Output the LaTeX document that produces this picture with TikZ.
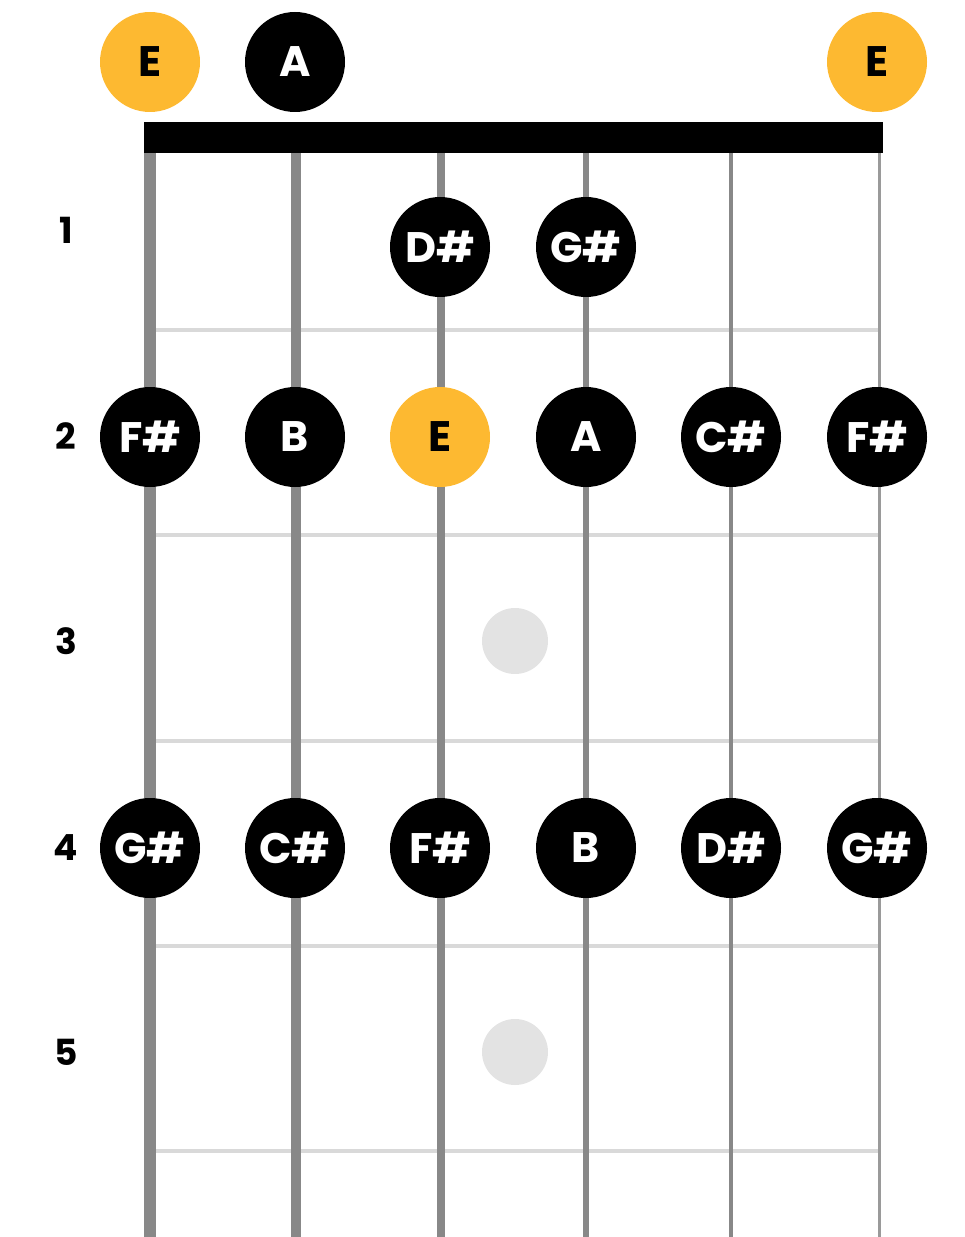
\documentclass[tikz,border=0pt]{standalone}
\usepackage{fontspec}
\setmainfont{Poppins}
\usepackage{tikz}
\usetikzlibrary{positioning}
\definecolor{NoteGold}{HTML}{FDB931}
\definecolor{StringGrey}{HTML}{888888}
\definecolor{FretGrey}{HTML}{D9D9D9}
\definecolor{DotGrey}{HTML}{E3E3E3}

\begin{document}
\begin{tikzpicture}[x=0.75pt,y=-0.75pt,
  note/.style={circle,fill=black,text=white,minimum size=75pt,inner sep=0pt,font=\bfseries\fontsize{32}{32}\selectfont},
  root/.style={note,fill=NoteGold,text=black},
  fretnum/.style={font=\bfseries\fontsize{27}{27}\selectfont},
  inlay/.style={circle,fill=DotGrey,minimum size=49.5pt,inner sep=0pt}]
\useasboundingbox (0,0) rectangle (964,1237);
% frets
\draw[FretGrey,line width=2.6pt] (156,330) -- (879,330);
\draw[FretGrey,line width=2.6pt] (156,535) -- (879,535);
\draw[FretGrey,line width=2.6pt] (156,741) -- (879,741);
\draw[FretGrey,line width=2.6pt] (156,946) -- (879,946);
\draw[FretGrey,line width=2.6pt] (156,1151) -- (879,1151);
% strings
\draw[StringGrey,line width=9pt] (150,150) -- (150,1237);
\draw[StringGrey,line width=7.5pt] (295.5,150) -- (295.5,1237);
\draw[StringGrey,line width=6pt] (441,150) -- (441,1237);
\draw[StringGrey,line width=4.5pt] (586,150) -- (586,1237);
\draw[StringGrey,line width=3.7pt] (731,150) -- (731,1237);
\draw[StringGrey!85,line width=2.3pt] (879.5,150) -- (879.5,1237);
% nut
\fill[black] (144,122) rectangle (883,153);
% inlays
\node[inlay] (dot3) at (515,641) {};
\node[inlay] (dot5) at (515,1052) {};
% fret numbers
\node[fretnum] (f1) at (66,230) {1};
\node[fretnum] (f2) at (66,436) {2};
\node[fretnum] (f3) at (66,641) {3};
\node[fretnum] (f4) at (66,848) {4};
\node[fretnum] (f5) at (66,1052) {5};
% open strings
\node[root] (o1) at (150,62) {E};
\node[note] (o2) at (295,62) {A};
\node[root] (o6) at (877,62) {E};
% fret 1
\node[note] (n13) at (440,247) {D\#};
\node[note] (n14) at (586,247) {G\#};
% fret 2
\node[note] (n21) at (150,437) {F\#};
\node[note] (n22) at (295,437) {B};
\node[root] (n23) at (440,437) {E};
\node[note] (n24) at (586,437) {A};
\node[note] (n25) at (731,437) {C\#};
\node[note] (n26) at (877,437) {F\#};
% fret 4
\node[note] (n41) at (150,848) {G\#};
\node[note] (n42) at (295,848) {C\#};
\node[note] (n43) at (440,848) {F\#};
\node[note] (n44) at (586,848) {B};
\node[note] (n45) at (731,848) {D\#};
\node[note] (n46) at (877,848) {G\#};
\end{tikzpicture}
\end{document}
